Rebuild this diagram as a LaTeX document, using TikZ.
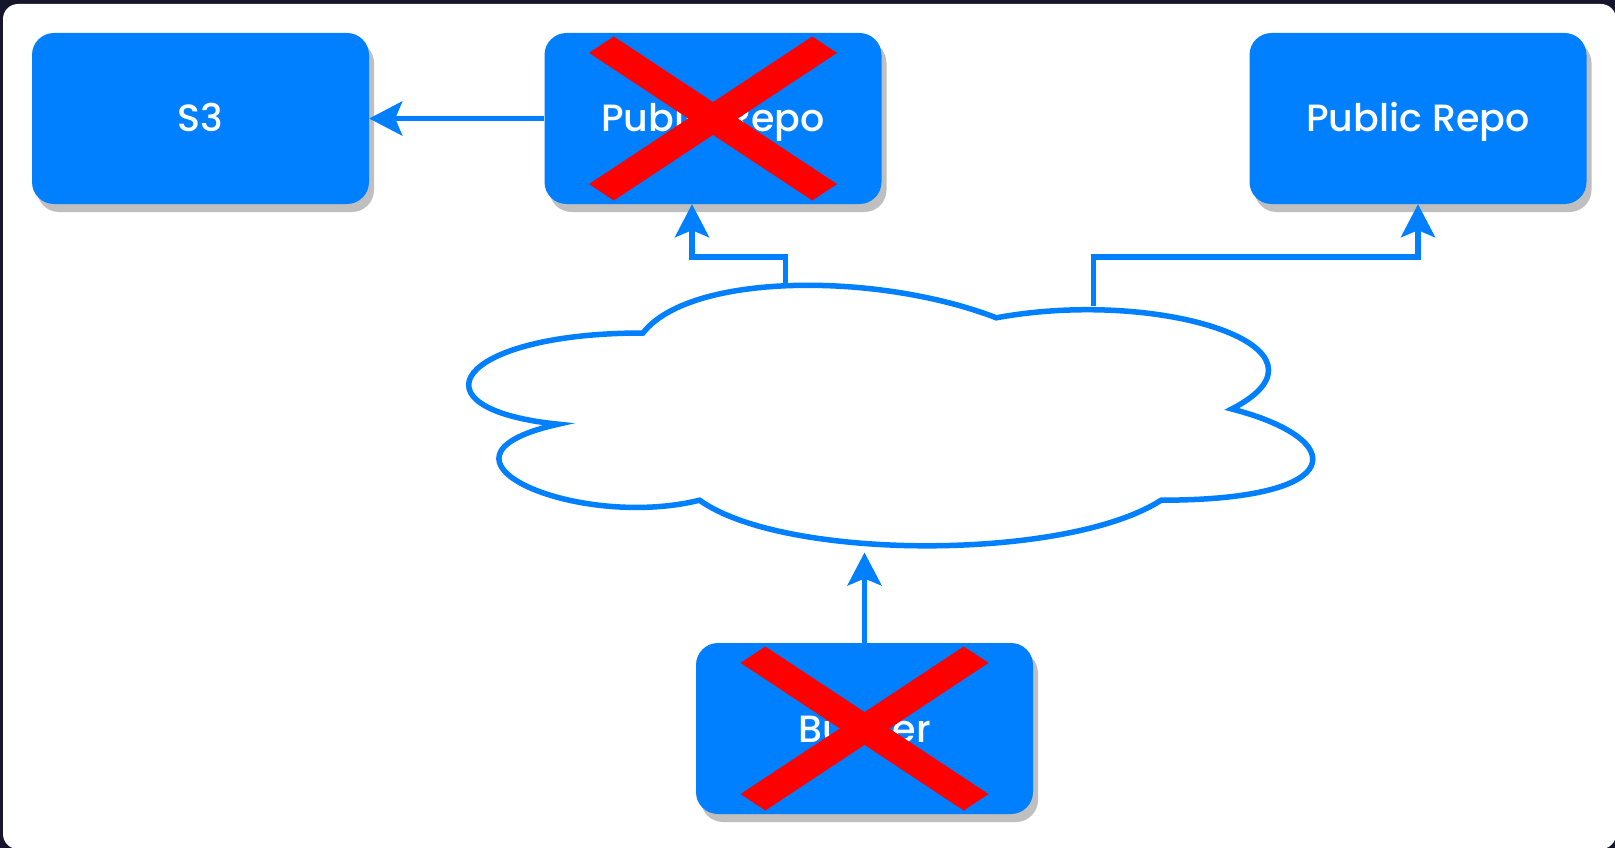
\documentclass[tikz,border=0pt]{standalone}
\usepackage{fontspec}
\setmainfont{Poppins}[UprightFont={* Medium}]
\usepackage{tikz}
\usepackage{xcolor}
\usetikzlibrary{
    arrows.meta,
    shadows,
    calc,
    positioning
}
\definecolor{framedark}{HTML}{15152B}
\definecolor{boxblue}{HTML}{007FFF}
\definecolor{crossred}{HTML}{FF0000}
\definecolor{shadowgray}{HTML}{BFBFBF}
\tikzset{
    block/.style={
        rectangle, rounded corners=22pt, fill=boxblue, text=white,
        minimum width=337pt, minimum height=171pt, inner sep=0pt,
        text height=33pt, text depth=6pt,
        font=\fontsize{38}{46}\selectfont,
        drop shadow={shadow xshift=5pt, shadow yshift=-8pt, fill=shadowgray, opacity=1}
    },
    link/.style={draw=boxblue, line width=5.5pt, -{Stealth[length=33pt, width=34pt, inset=7pt]}},
    redcross/.pic={
        \fill[crossred]
        (-124, -65.6) -- (-99.2, -82) -- (0, -16.4) -- (99.2, -82) -- (124, -65.6) -- (24.8, 0)
        -- (124, 65.6) -- (99.2, 82) -- (0, 16.4) -- (-99.2, 82) -- (-124, 65.6) -- (-24.8, 0) -- cycle;
    }
}

\begin{document}
\begin{tikzpicture}[x=1pt, y=-1pt]
    \useasboundingbox (0, 0) rectangle (1615, 848);
    \fill[framedark] (0, 0) rectangle (1615, 848);
    \fill[white, rounded corners=15pt] (3, 4) rectangle (1616, 849);

    \begin{scope}[shift={(407.5pt, -257pt)}, x=942pt, y=-304pt]
        \draw[draw=boxblue, line width=5.5pt, fill=white]
        (0.25, 0.25) .. controls (0.05, 0.25) and (0, 0.5) .. (0.16, 0.55)
        .. controls (0, 0.66) and (0.18, 0.9) .. (0.31, 0.8)
        .. controls (0.4, 1) and (0.7, 1) .. (0.8, 0.8)
        .. controls (1, 0.8) and (1, 0.6) .. (0.875, 0.5)
        .. controls (1, 0.3) and (0.8, 0.1) .. (0.625, 0.2)
        .. controls (0.5, 0.05) and (0.3, 0.05) .. (0.25, 0.25) -- cycle;
        \coordinate (cloudleft) at (0.401, 0.094);
        \coordinate (cloudright) at (0.728, 0.16);
        \coordinate (cloudbottom) at (0.4851, 0.972);
    \end{scope}

    \node[block] (s3) at (200.5, 118.5) {S3};
    \node[block] (repoold) at (713, 118.5) {Public Repo};
    \node[block] (reponew) at (1418, 118.5) {Public Repo};
    \node[block] (builder) at (864.5, 728.5) {Builder};

    \pic at (repoold) {redcross};
    \pic at (builder) {redcross};

    \draw[link] (repoold.west) -- (s3.east);
    \draw[link] (cloudleft) |- ([xshift=-21pt, yshift=-53pt]repoold.south) -- ([xshift=-21pt]repoold.south);
    \draw[link] (cloudright) |- ([yshift=-53pt]reponew.south) -- (reponew.south);
    \draw[link] (builder.north) -- (builder.north |- cloudbottom);
\end{tikzpicture}
\end{document}
